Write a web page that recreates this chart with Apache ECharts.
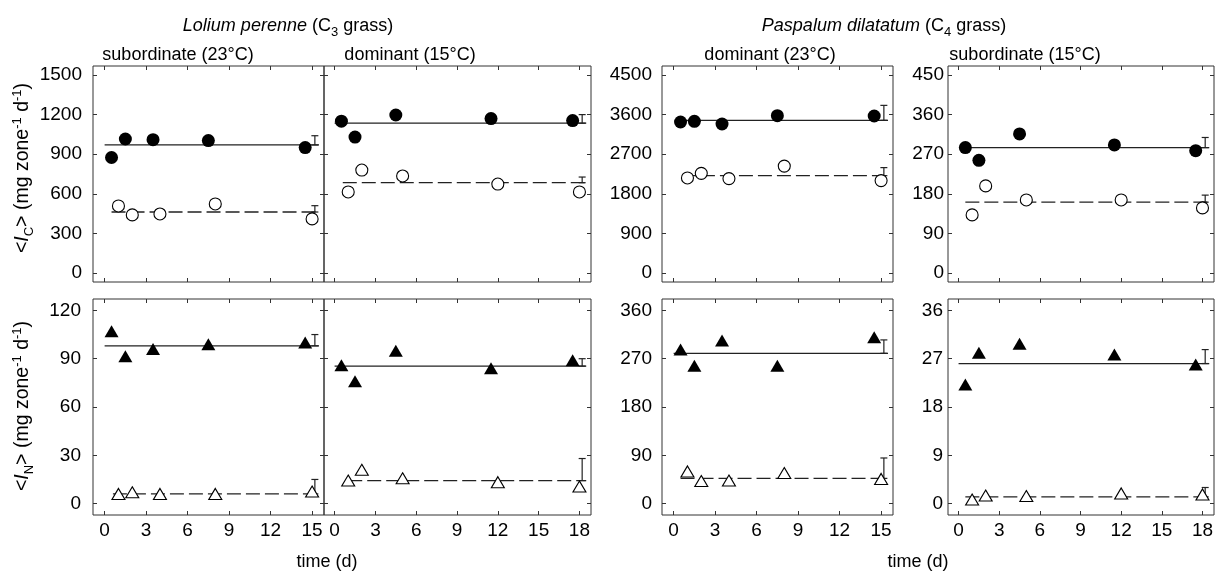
<!DOCTYPE html>
<html><head><meta charset="utf-8">
<script src="https://cdn.jsdelivr.net/npm/echarts@6/dist/echarts.min.js"></script>
<style>html,body{margin:0;padding:0;background:#fff}#c{width:1219px;height:574px}</style>
</head><body><div id="c"></div>
<script>
// ---- tick labels ----
const xTicks15 = [0, 3, 6, 9, 12, 15];
const xTicks18 = [0, 3, 6, 9, 12, 15, 18];
const yTicksLolC = [0, 300, 600, 900, 1200, 1500];
const yTicksPasDomC = [0, 900, 1800, 2700, 3600, 4500];
const yTicksPasSubC = [0, 90, 180, 270, 360, 450];
const yTicksLolN = [0, 30, 60, 90, 120];
const yTicksPasDomN = [0, 90, 180, 270, 360];
const yTicksPasSubN = [0, 9, 18, 27, 36];

// ---- sampling days ----
const days15Filled = [0.5, 1.5, 3.5, 7.5, 14.5];
const days15Open = [1, 2, 4, 8, 15];
const days18Filled = [0.5, 1.5, 4.5, 11.5, 17.5];
const days18Open = [1, 2, 5, 12, 18];

// ---- Lolium perenne, subordinate (23°C) ----
const lolSubC_filled = [875, 1015, 1010, 1003, 950];
const lolSubC_open = [508, 440, 447, 523, 410];
const lolSubN_filled = [107, 91.5, 96, 99, 100];
const lolSubN_open = [6, 7, 6, 6, 7.5];
// ---- Lolium perenne, dominant (15°C) ----
const lolDomC_filled = [1150, 1030, 1197, 1170, 1155];
const lolDomC_open = [614, 780, 735, 674, 614];
const lolDomN_filled = [86, 76, 95, 84, 89];
const lolDomN_open = [14.3, 21, 15.7, 13.3, 10.6];
// ---- Paspalum dilatatum, dominant (23°C) ----
const pasDomC_filled = [3432, 3447, 3386, 3576, 3568];
const pasDomC_open = [2160, 2265, 2145, 2430, 2100];
const pasDomN_filled = [287, 257, 304, 257, 310];
const pasDomN_open = [60, 42, 43, 57, 46];
// ---- Paspalum dilatatum, subordinate (15°C) ----
const pasSubC_filled = [285, 256, 316, 291, 278];
const pasSubC_open = [132, 198, 166, 166, 148];
const pasSubN_filled = [22.2, 28.1, 29.8, 27.8, 25.9];
const pasSubN_open = [0.75, 1.5, 1.4, 1.9, 1.7];

// ---- mean lines [filled mean, open mean] and upper error ends [filled, open] ----
const lolSubC_mean = [970, 462], lolSubC_err = [1040, 510];
const lolDomC_mean = [1135, 684], lolDomC_err = [1200, 727];
const pasDomC_mean = [3470, 2212], pasDomC_err = [3810, 2395];
const pasSubC_mean = [285, 161], pasSubC_err = [308, 177];
const lolSubN_mean = [98, 6], lolSubN_err = [105, 15];
const lolDomN_mean = [85.4, 14.3], lolDomN_err = [90, 28];
const pasDomN_mean = [280, 47], pasDomN_err = [305, 85];
const pasSubN_mean = [26.1, 1.25], pasSubN_err = [28.7, 3.0];

// ---- mean-line extents (days): [solid start, solid end, dashed start, dashed end], error bar day ----
const lolSubC_span = [0, 15.5, 0.5, 15.5], lolSubN_span = [0, 15.5, 0.6, 15.5];
const lolDomC_span = [0, 18.5, 0.6, 18.5], lolDomN_span = [0, 18.5, 1, 18.5];
const pasDomC_span = [0.5, 15.5, 0.6, 15.5], pasDomN_span = [0, 15.5, 0.5, 15.5];
const pasSubC_span = [0.5, 18.5, 0.5, 18.5], pasSubN_span = [0, 18.5, 0.5, 18.5];
const errDay15 = 15.2, errDay18 = 18.2;

const FONT = "'Liberation Sans', Arial, sans-serif";
const INK = '#000';
const LINE = '#222';

const panels = [
  {grid:{left:93,top:66,width:231,height:216}, long:false, yT:yTicksLolC, f:lolSubC_filled, o:lolSubC_open, m:lolSubC_mean, e:lolSubC_err, s:lolSubC_span, tri:false, yLab:true, xLab:false, lm:11},
  {grid:{left:324,top:66,width:267,height:216}, long:true, yT:yTicksLolC, f:lolDomC_filled, o:lolDomC_open, m:lolDomC_mean, e:lolDomC_err, s:lolDomC_span, tri:false, yLab:false, xLab:false, lm:11},
  {grid:{left:662,top:66,width:231,height:216}, long:false, yT:yTicksPasDomC, f:pasDomC_filled, o:pasDomC_open, m:pasDomC_mean, e:pasDomC_err, s:pasDomC_span, tri:false, yLab:true, xLab:false, lm:10},
  {grid:{left:948,top:66,width:266,height:216}, long:true, yT:yTicksPasSubC, f:pasSubC_filled, o:pasSubC_open, m:pasSubC_mean, e:pasSubC_err, s:pasSubC_span, tri:false, yLab:true, xLab:false, lm:4},
  {grid:{left:93,top:299,width:231,height:216}, long:false, yT:yTicksLolN, f:lolSubN_filled, o:lolSubN_open, m:lolSubN_mean, e:lolSubN_err, s:lolSubN_span, tri:true, yLab:true, xLab:true, lm:12},
  {grid:{left:324,top:299,width:267,height:216}, long:true, yT:yTicksLolN, f:lolDomN_filled, o:lolDomN_open, m:lolDomN_mean, e:lolDomN_err, s:lolDomN_span, tri:true, yLab:false, xLab:true, lm:11},
  {grid:{left:662,top:299,width:231,height:216}, long:false, yT:yTicksPasDomN, f:pasDomN_filled, o:pasDomN_open, m:pasDomN_mean, e:pasDomN_err, s:pasDomN_span, tri:true, yLab:true, xLab:true, lm:10},
  {grid:{left:948,top:299,width:266,height:216}, long:true, yT:yTicksPasSubN, f:pasSubN_filled, o:pasSubN_open, m:pasSubN_mean, e:pasSubN_err, s:pasSubN_span, tri:true, yLab:true, xLab:true, lm:5}
];

const fmt = v => String(v);
const grids = [], xAxes = [], yAxes = [], series = [];
panels.forEach((p, i) => {
  grids.push(Object.assign({show:true, borderColor:'#333', borderWidth:1, backgroundColor:'transparent', containLabel:false}, p.grid));
  const xt = p.long ? xTicks18 : xTicks15;
  const xmin = p.long ? -0.78 : -0.84, xmax = p.long ? 18.85 : 15.86;
  const top = p.yT[p.yT.length - 1];
  const pad = i < 4 ? 0.0455 : 0.059;
  const ymin = -pad * top, ymax = top * (1 + pad);
  const tick = {show:true, inside:true, length:4, lineStyle:{color:'#333', width:1}};
  ['bottom','top'].forEach(pos => {
    xAxes.push({gridIndex:i, type:'value', position:pos, min:xmin, max:xmax,
      axisLine:{show:false, onZero:false}, splitLine:{show:false},
      axisTick:Object.assign({}, tick, {customValues:xt}),
      axisLabel:{show: pos==='bottom' && p.xLab, customValues:xt, formatter:fmt, fontSize:19, fontFamily:FONT, color:INK, margin:6}});
  });
  ['left','right'].forEach(pos => {
    yAxes.push({gridIndex:i, type:'value', position:pos, min:ymin, max:ymax,
      axisLine:{show:false, onZero:false}, splitLine:{show:false},
      axisTick:Object.assign({}, tick, {customValues:p.yT}),
      axisLabel:{show: pos==='left' && p.yLab, customValues:p.yT, formatter:fmt, fontSize:19, fontFamily:FONT, color:INK, margin:p.lm}});
  });
  const xi = 2 * i, yi = 2 * i;
  const fd = p.long ? days18Filled : days15Filled;
  const od = p.long ? days18Open : days15Open;
  const ed = p.long ? errDay18 : errDay15;
  series.push({type:'line', xAxisIndex:xi, yAxisIndex:yi, data:[[p.s[0], p.m[0]],[p.s[1], p.m[0]]], symbol:'none', silent:true, animation:false, z:2,
    lineStyle:{color:LINE, width:1.3}});
  series.push({type:'line', xAxisIndex:xi, yAxisIndex:yi, data:[[p.s[2], p.m[1]],[p.s[3], p.m[1]]], symbol:'none', silent:true, animation:false, z:2,
    lineStyle:{color:LINE, width:1.3, type:[14,5]}});
  series.push({type:'custom', xAxisIndex:xi, yAxisIndex:yi, animation:false, silent:true, z:3,
    data:[[ed, p.m[0], p.e[0]], [ed, p.m[1], p.e[1]]],
    encode:{x:0, y:[1,2]},
    renderItem:function(params, api){
      const a = api.coord([api.value(0), api.value(1)]);
      const b = api.coord([api.value(0), api.value(2)]);
      const w = 3.5, st = {stroke:LINE, lineWidth:1.2};
      return {type:'group', children:[
        {type:'line', shape:{x1:a[0], y1:a[1], x2:b[0], y2:b[1]}, style:st},
        {type:'line', shape:{x1:a[0]-w, y1:a[1], x2:a[0]+w, y2:a[1]}, style:st},
        {type:'line', shape:{x1:b[0]-w, y1:b[1], x2:b[0]+w, y2:b[1]}, style:st}
      ]};
    }});
  series.push({type:'scatter', xAxisIndex:xi, yAxisIndex:yi, animation:false, z:5,
    data: fd.map((d, k) => [d, p.f[k]]),
    symbol: p.tri ? 'triangle' : 'circle', symbolSize: p.tri ? [14,12] : 13,
    itemStyle:{color:'#000', opacity:1}});
  series.push({type:'scatter', xAxisIndex:xi, yAxisIndex:yi, animation:false, z:5,
    data: od.map((d, k) => [d, p.o[k]]),
    symbol: p.tri ? 'triangle' : 'circle', symbolSize: p.tri ? [13,11] : 12,
    itemStyle:{color:'#fff', borderColor:'#000', borderWidth:1.1, opacity:1}});
});

const txt = (x, y, text, size, extra) => Object.assign({type:'text', x:x, y:y, silent:true,
  style:{text:text, fill:INK, fontSize:size, fontFamily:FONT, align:'center', verticalAlign:'middle',
    rich:{i:{fontStyle:'italic', fontSize:size, fontFamily:FONT, fill:INK},
          sub:{fontSize:13, fontFamily:FONT, fill:INK, verticalAlign:'bottom', lineHeight:15},
          sup:{fontSize:13, fontFamily:FONT, fill:INK, verticalAlign:'top', lineHeight:15}},
    lineHeight:25}}, extra || {});

const graphic = [
  txt(288, 26, '{i|Lolium perenne} (C{sub|3} grass)', 18),
  txt(884, 26, '{i|Paspalum dilatatum} (C{sub|4} grass)', 18),
  txt(178, 55, 'subordinate (23°C)', 18),
  txt(410, 55, 'dominant (15°C)', 18),
  txt(770, 55, 'dominant (23°C)', 18),
  txt(1025, 55, 'subordinate (15°C)', 18),
  txt(23, 168, '<{i|I}{sub|C}> (mg zone{sup|-1} d{sup|-1})', 19.5, {rotation: Math.PI/2}),
  txt(23, 406, '<{i|I}{sub|N}> (mg zone{sup|-1} d{sup|-1})', 19.5, {rotation: Math.PI/2}),
  txt(327, 562, 'time (d)', 18),
  txt(918, 562, 'time (d)', 18)
];

const chart = echarts.init(document.getElementById('c'), null, {renderer:'canvas'});
chart.setOption({animation:false, backgroundColor:'#fff', grid:grids, xAxis:xAxes, yAxis:yAxes, series:series, graphic:graphic});
</script></body></html>
